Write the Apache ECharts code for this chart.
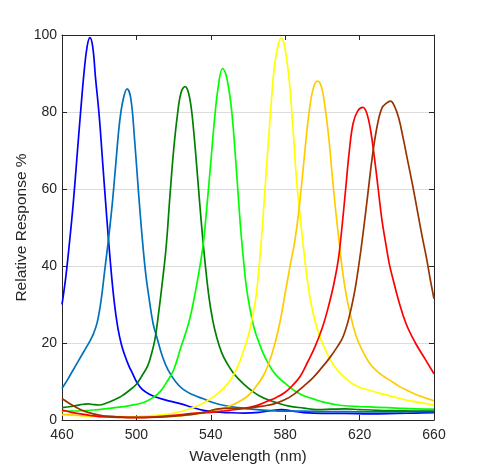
<!DOCTYPE html>
<html>
<head>
<meta charset="utf-8">
<script src="https://cdn.jsdelivr.net/npm/echarts@6/dist/echarts.min.js"></script>
<style>
html,body{margin:0;padding:0;background:#fff;}
#chart{width:480px;height:473px;}
</style>
</head>
<body>
<div id="chart"></div>
<script>
// Wavelength (nm) and relative response (%)
const xTicks = [460, 500, 540, 580, 620, 660];
const yTicks = [0, 20, 40, 60, 80, 100];

const wlBlue   = [460,462,464,466,468,470,472,473.5,475,476.5,478,480,482,484,486,488,490,492,494,496,498,500,503,507,512,518,524,530,536,542,550,558,566,572,578,584,590,600,612,625,640,650,660];
const respBlue = [30,37,46,56,68,80,91,97,99.3,97,89,79,66,53,41,31,24,19.5,16.5,14,12,10,8,6.7,5.7,4.9,4.2,3.3,2.5,2.1,1.9,1.8,2.0,2.4,2.7,2.3,1.9,1.7,1.7,1.6,1.7,1.8,1.9];

const wlSteel   = [460,463,466,469,472,475,477,479,481,483,485,487,489,491,493,495,497,499,501,503,505,507,509,511,514,517,521,525,530,536,542,548,555,562,570,580,590,600,610,620,630,640,650,660];
const respSteel = [8.2,10.5,13,15.5,18,20.5,22.5,25.5,31,39,47,56,67,77.5,83.5,86,83.5,73,60,48,38,31,25,21.5,16.5,13,10,8,6.6,5.5,4.4,3.7,3.2,2.8,2.5,2.3,2.3,2.2,2.2,2.1,2.1,2.1,2.2,2.2];

const wlDkGreen   = [460,465,470,474,477,480,484,488,492,496,500,503,506,508,510,512,514,516,518,520,522,524,526.3,528,529.5,531,532.5,534,535.5,537,539,541,543,546,549,552,555,558,562,566,571,576,582,590,597,605,612,620,630,640,650,660];
const respDkGreen = [3.2,3.5,4.0,4.2,4.0,3.9,4.4,5.2,6.2,7.6,9.3,11.5,14,17,21,28,36,45,58,70,79,85,86.6,85,81,74,65.5,56.5,48,40.5,32,26,21.8,17.3,14.5,12.3,10.6,9.2,7.6,6.3,5.2,4.4,3.6,3.1,2.7,2.8,2.9,2.7,2.5,2.4,2.3,2.3];

const wlGreen   = [460,470,477,485,492,497,502,506,510,513,517,520,524,528,531,534,536,538,540,542,544,546.3,548,550,551.5,553,554.5,556,557.5,559,561,563.5,566,568,570,573,576,580,585,590,595,600,606,612,620,630,640,650,660];
const respGreen = [2.3,2.4,2.6,3.0,3.4,3.8,4.3,5.0,6.2,7.5,10.4,13,19,25,31.5,39.5,46,56,67,78,86.5,91.3,90,85,79,70,60,50,42,35,29,23.5,20,17.5,15.5,13,11.2,9.5,7.6,6.3,5.5,4.7,4.1,3.7,3.5,3.3,3.1,2.9,2.8];

const wlYellow   = [460,470,480,490,500,510,518,524,528,532,536,540,544,548,552,555,558,561,564,566,568,570,572,574,576,577.8,579.5,582,584,586,588,590,592,594,597,600,604,608,612,616,620,626,632,640,648,655,660];
const respYellow = [1.3,1.1,0.9,0.8,0.9,1.2,1.6,2.2,2.8,3.5,4.4,5.6,7,8.8,11.5,14.5,18.5,23.5,31,40,52,66,79,91,97,99.2,97.5,89,77,63,53,44,36,30,24,20,15.8,13,11,9.5,8.5,7.6,6.8,5.8,4.9,4.3,3.8];

const wlOrange   = [460,480,500,520,535,545,552,556,560,564,568,571,574,577,580,583,585,587,589,591,593,595,597.3,599.5,601.5,603.5,605,607,609.3,611,613,615.5,618,621,625,629,633,637,641,645,650,655,660];
const respOrange = [1.5,1.0,0.8,1.0,1.8,2.8,4.0,5.0,6.3,8.5,11.3,14.5,19,25,33,41,46,53,62,72,80.5,86,88,86.5,81,73,65,55,45,38,32,26.5,22,18.5,15,12.8,11.3,10.1,8.8,7.8,6.7,5.8,5.0];

const wlRed   = [460,465,470,475,480,490,500,510,520,530,540,548,555,560,565,570,575,580,584,588,592,596,600,603,606,608.5,610.5,612.5,614.5,616.5,619,621.8,624,626,628,630,632,634,636,638,641,645,650,655,660];
const respRed = [2.6,2.0,1.6,1.2,0.9,0.7,0.6,0.8,1.2,1.7,2.0,2.4,2.8,3.2,3.8,4.8,5.8,7.2,9,11.3,15,19,24,29,35,41.5,50,60,70,77,80.3,81.2,79.5,75,68,60,52,46,40.5,36.5,31,25,20,16,12];

const wlBrown   = [460,464,468,472,477,482,488,495,505,515,525,532,538,544,550,556,562,568,574,580,585,590,595,600,604,608,611,614,617,619.5,622,624.5,627,629.5,632,634.5,636.6,638.5,641,643.5,646,648.5,651,653.5,656,658,660];
const respBrown = [5.6,4.3,3.2,2.3,1.6,1.1,0.9,0.7,0.7,0.8,1.2,1.6,2.2,2.9,3.1,3.0,3.2,3.6,4.2,5.3,6.8,8.8,11,13.8,16.2,19,21.5,26,32.5,40,49,59,69,76.5,81,82.3,82.8,81.8,78.5,73,67,61,54.5,48,42,36.5,31.5];

function pairs(xs, ys) { return xs.map((x, i) => [x, ys[i]]); }

const curves = [
  { name: 'Blue',       wl: wlBlue,    resp: respBlue,    color: '#0000FF' },
  { name: 'Cyan Blue',  wl: wlSteel,   resp: respSteel,   color: '#0072BD' },
  { name: 'Dark Green', wl: wlDkGreen, resp: respDkGreen, color: '#008000' },
  { name: 'Green',      wl: wlGreen,   resp: respGreen,   color: '#00FF00' },
  { name: 'Yellow',     wl: wlYellow,  resp: respYellow,  color: '#FFFF00' },
  { name: 'Amber',      wl: wlOrange,  resp: respOrange,  color: '#FFCC00' },
  { name: 'Red',        wl: wlRed,     resp: respRed,     color: '#FF0000' },
  { name: 'Brown',      wl: wlBrown,   resp: respBrown,   color: '#993300' }
];

const font = 'Liberation Sans, Arial, Helvetica, sans-serif';
const axisCol = '#262626';

const chart = echarts.init(document.getElementById('chart'), null, { renderer: 'canvas' });
chart.setOption({
  animation: false,
  backgroundColor: '#ffffff',
  grid: { left: 62, right: 46, top: 35, bottom: 53, containLabel: false },
  xAxis: [
    {
      type: 'value', min: xTicks[0], max: xTicks[xTicks.length - 1], interval: 40,
      position: 'bottom',
      name: 'Wavelength (nm)', nameLocation: 'middle', nameGap: 29,
      nameMoveOverlap: false,
      nameTextStyle: { fontFamily: font, fontSize: 15.5, color: axisCol },
      axisLine: { show: true, onZero: false, lineStyle: { color: axisCol, width: 1 } },
      axisTick: { show: true, inside: true, length: 5, lineStyle: { color: axisCol } },
      axisLabel: { fontFamily: font, fontSize: 14, color: axisCol, margin: 8 },
      splitLine: { show: false }
    },
    {
      type: 'value', min: xTicks[0], max: xTicks[xTicks.length - 1], interval: 40,
      position: 'top',
      axisLine: { show: true, onZero: false, lineStyle: { color: axisCol, width: 1 } },
      axisTick: { show: true, inside: true, length: 5, lineStyle: { color: axisCol } },
      axisLabel: { show: false },
      splitLine: { show: false }
    }
  ],
  yAxis: [
    {
      type: 'value', min: yTicks[0], max: yTicks[yTicks.length - 1], interval: 20,
      position: 'left',
      name: 'Relative Response %', nameLocation: 'middle', nameGap: 32,
      nameMoveOverlap: false,
      nameTextStyle: { fontFamily: font, fontSize: 15.5, color: axisCol },
      axisLine: { show: true, onZero: false, lineStyle: { color: axisCol, width: 1 } },
      axisTick: { show: true, inside: true, length: 5, lineStyle: { color: axisCol } },
      axisLabel: { fontFamily: font, fontSize: 14, color: axisCol, margin: 5 },
      splitLine: { show: true, lineStyle: { color: '#dcdcdc', width: 1 } }
    },
    {
      type: 'value', min: yTicks[0], max: yTicks[yTicks.length - 1], interval: 20,
      position: 'right',
      axisLine: { show: true, onZero: false, lineStyle: { color: axisCol, width: 1 } },
      axisTick: { show: true, inside: true, length: 5, lineStyle: { color: axisCol } },
      axisLabel: { show: false },
      splitLine: { show: false }
    }
  ],
  series: curves.map(c => ({
    name: c.name,
    type: 'line',
    xAxisIndex: 0,
    yAxisIndex: 0,
    data: pairs(c.wl, c.resp),
    showSymbol: false,
    symbol: 'none',
    smooth: 0.4,
    lineStyle: { color: c.color, width: 1.7 },
    itemStyle: { color: c.color },
    clip: true
  }))
});
</script>
</body>
</html>
